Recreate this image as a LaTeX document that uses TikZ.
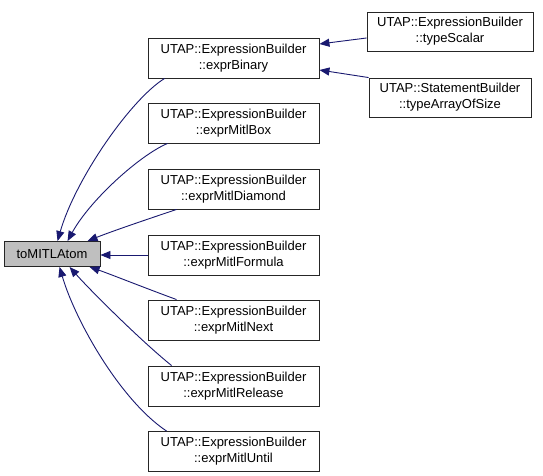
\documentclass[tikz,border=0pt]{standalone}
\usepackage{fontspec}
\setmainfont{Liberation Sans}
\usetikzlibrary{arrows.meta}
\definecolor{edgeblue}{HTML}{191970}
\definecolor{atomgray}{HTML}{BFBFBF}
\begin{document}
\begin{tikzpicture}[x=1pt,y=-1pt,
  box/.style={draw=black!85, line width=0.9pt, fill=white, inner sep=0pt, align=center,
    font=\fontsize{13}{16}\selectfont},
  mid/.style={box, minimum width=171pt, minimum height=40pt},
  edge/.style={draw=edgeblue, line width=0.9pt, -{Triangle[length=10pt,width=8pt]}, fill=none}
]
\useasboundingbox[fill=white] (0,0) rectangle (543,476);
\node[box, fill=atomgray, minimum width=96pt, minimum height=25pt] (atom) at (52,254) {toMITLAtom};
\node[mid] (b1) at (233.5,58) {UTAP::ExpressionBuilder\\::exprBinary};
\node[mid] (b2) at (233.5,123) {UTAP::ExpressionBuilder\\::exprMitlBox};
\node[mid] (b3) at (233.5,189) {UTAP::ExpressionBuilder\\::exprMitlDiamond};
\node[mid] (b4) at (233.5,255) {UTAP::ExpressionBuilder\\::exprMitlFormula};
\node[mid] (b5) at (233.5,320) {UTAP::ExpressionBuilder\\::exprMitlNext};
\node[mid] (b6) at (233.5,386) {UTAP::ExpressionBuilder\\::exprMitlRelease};
\node[mid] (b7) at (233.5,451.5) {UTAP::ExpressionBuilder\\::exprMitlUntil};
\node[box, minimum width=166pt, minimum height=39pt] (ts) at (450,31.5) {UTAP::ExpressionBuilder\\::typeScalar};
\node[box, minimum width=162pt, minimum height=39pt] (ta) at (450,97.5) {UTAP::StatementBuilder\\::typeArrayOfSize};

\draw[edge] ([yshift=-6.5pt]ts.west) -- ([yshift=14pt]b1.east);
\draw[edge] (ta.north west) -- ([yshift=-12pt]b1.east);

\draw[edge] ([xshift=17pt]b1.south west) .. controls (130,100) and (75,180) .. ([xshift=54pt]atom.north west);
\draw[edge] ([xshift=20pt]b2.south west) .. controls (140,155) and (90,200) .. ([xshift=64pt]atom.north west);
\draw[edge] ([xshift=29pt]b3.south west) .. controls (145,220) and (110,232) .. ([xshift=84pt]atom.north west);
\draw[edge] (b4.west) -- (b4.west -| atom.east);
\draw[edge] ([xshift=29pt]b5.north west) .. controls (145,288) and (110,274) .. ([xshift=86pt]atom.south west);
\draw[edge] ([xshift=24pt]b6.north west) .. controls (140,340) and (90,290) .. ([xshift=66pt]atom.south west);
\draw[edge] ([xshift=19pt]b7.north west) .. controls (120,400) and (75,320) .. ([xshift=56pt]atom.south west);
\end{tikzpicture}
\end{document}
